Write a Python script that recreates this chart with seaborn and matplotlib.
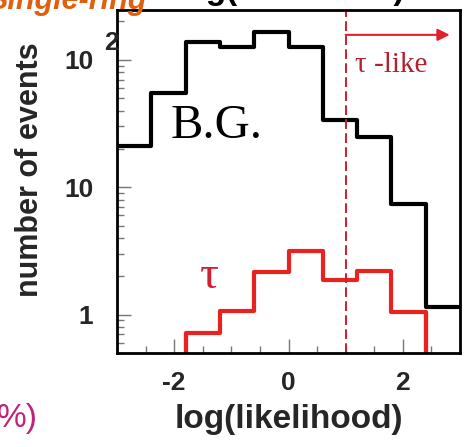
import numpy as np
import pandas as pd
import matplotlib
matplotlib.use("Agg")
import matplotlib.pyplot as plt
from matplotlib.ticker import FixedLocator, LogLocator, NullFormatter, MultipleLocator
import seaborn as sns

# Histogram binning in log(likelihood)
bin_edges = [-3.0, -2.4, -1.8, -1.2, -0.6, 0.0, 0.6, 1.2, 1.8, 2.4, 3.0]
# Background (B.G.) events per bin
bg_counts = [21, 55, 138, 126, 166, 126, 34, 25, 7.4, 1.15]
# Tau signal events per bin
tau_counts = [0, 0, 0.72, 1.06, 2.17, 3.16, 1.88, 2.2, 1.05, 0]
cut_value = 1.0

x_ticks = [-2, 0, 2]
y_ticks = [1, 10, 100]
y_tick_labels = ["1", "10", "10"]

sns.set_style("white")
plt.rcParams["font.family"] = ["Liberation Sans", "DejaVu Sans"]

centers = [(a + b) / 2 for a, b in zip(bin_edges[:-1], bin_edges[1:])]
df = pd.DataFrame({"llh": centers, "bg": bg_counts, "tau": tau_counts})

fig = plt.figure(figsize=(4.66, 4.47), dpi=100)
ax = fig.add_axes([117 / 466, 94 / 447, 343 / 466, 343 / 447])

Y_MIN, Y_MAX = 0.5, 246

for col, colour in [("bg", "black"), ("tau", "#e8231f")]:
    sns.histplot(data=df, x="llh", weights=col, bins=bin_edges, element="step",
                 fill=False, color=colour, linewidth=3, ax=ax)
    # on a log axis, drop the outline to the floor where a bin is empty
    counts = df[col].to_numpy()
    for i in range(1, len(counts)):
        lo, hi = sorted((counts[i - 1], counts[i]))
        if lo <= 0 < hi:
            ax.vlines(bin_edges[i], Y_MIN * 0.5, hi, color=colour, lw=3)

ax.set_yscale("log")
ax.set_xlim(-3, 3)
ax.set_ylim(Y_MIN, Y_MAX)

# selection cut and arrow toward the tau-like side
ax.axvline(cut_value, color="#c8202e", lw=1.4, ls=(0, (5, 2.2)))
ax.annotate("", xy=(2.82, 157), xytext=(cut_value, 157),
            arrowprops=dict(arrowstyle="-|>", color="#e0202a", lw=1.5,
                            mutation_scale=18, shrinkA=0, shrinkB=0))

ax.text(1.17, 91, "τ -like", family=["Liberation Serif", "DejaVu Serif"],
        fontsize=21, color="#b5202e", va="center", ha="left")
ax.text(-2.07, 24.5, "B.G.", family=["Liberation Serif", "DejaVu Serif"],
        fontsize=35, color="black", va="baseline", ha="left")
ax.text(-1.38, 1.98, "τ", family=["Liberation Serif", "DejaVu Serif"],
        fontsize=34, color="#d02030", va="center", ha="center")

# ticks
ax.xaxis.set_major_locator(FixedLocator(x_ticks))
ax.xaxis.set_minor_locator(MultipleLocator(0.5))
ax.yaxis.set_major_locator(FixedLocator(y_ticks))
ax.yaxis.set_minor_locator(LogLocator(base=10, subs=np.arange(2, 10)))
ax.yaxis.set_minor_formatter(NullFormatter())
ax.set_xticklabels([f"{t:d}" for t in x_ticks])
ax.set_yticklabels(y_tick_labels)
ax.tick_params(axis="both", which="both", direction="in", color="#777777",
               width=1, bottom=True, left=True, top=False, right=False)
ax.tick_params(axis="both", which="major", length=10, labelsize=19)
ax.tick_params(axis="both", which="minor", length=5)
ax.tick_params(axis="y", which="major", pad=17)
ax.tick_params(axis="x", which="major", pad=13)
for lab in ax.get_xticklabels() + ax.get_yticklabels():
    lab.set_fontweight("bold")
ax.text(-0.017, 0.905, "2", transform=ax.transAxes, fontsize=19,
        fontweight="bold", ha="center", va="center")

for s in ax.spines.values():
    s.set_color("black")
    s.set_linewidth(2)

ax.set_xlabel("log(likelihood)", fontsize=24, fontweight="bold")
ax.set_ylabel("number of events", fontsize=22, fontweight="bold")
ax.xaxis.label.set_va("center")
ax.yaxis.label.set_va("center")
ax.xaxis.set_label_coords(0.5, -0.195)
ax.yaxis.set_label_coords(-0.254, 0.534)

# slide heading and caption fragments at the edges
fig.text(147 / 466, 1 - 9 / 447, "Single-ring", fontsize=22, fontweight="bold",
         fontstyle="italic", color="#e06010", ha="right", va="baseline")
fig.text(291 / 466, 1.0 + 1 / 447, "log(likelihood)", fontsize=24,
         fontweight="bold", color="black", ha="center", va="baseline")
fig.text(38 / 466, 20 / 447, "%)", fontsize=24, color="#c0247a",
         ha="right", va="baseline")

fig.savefig("out.png", dpi=100, facecolor="white")
